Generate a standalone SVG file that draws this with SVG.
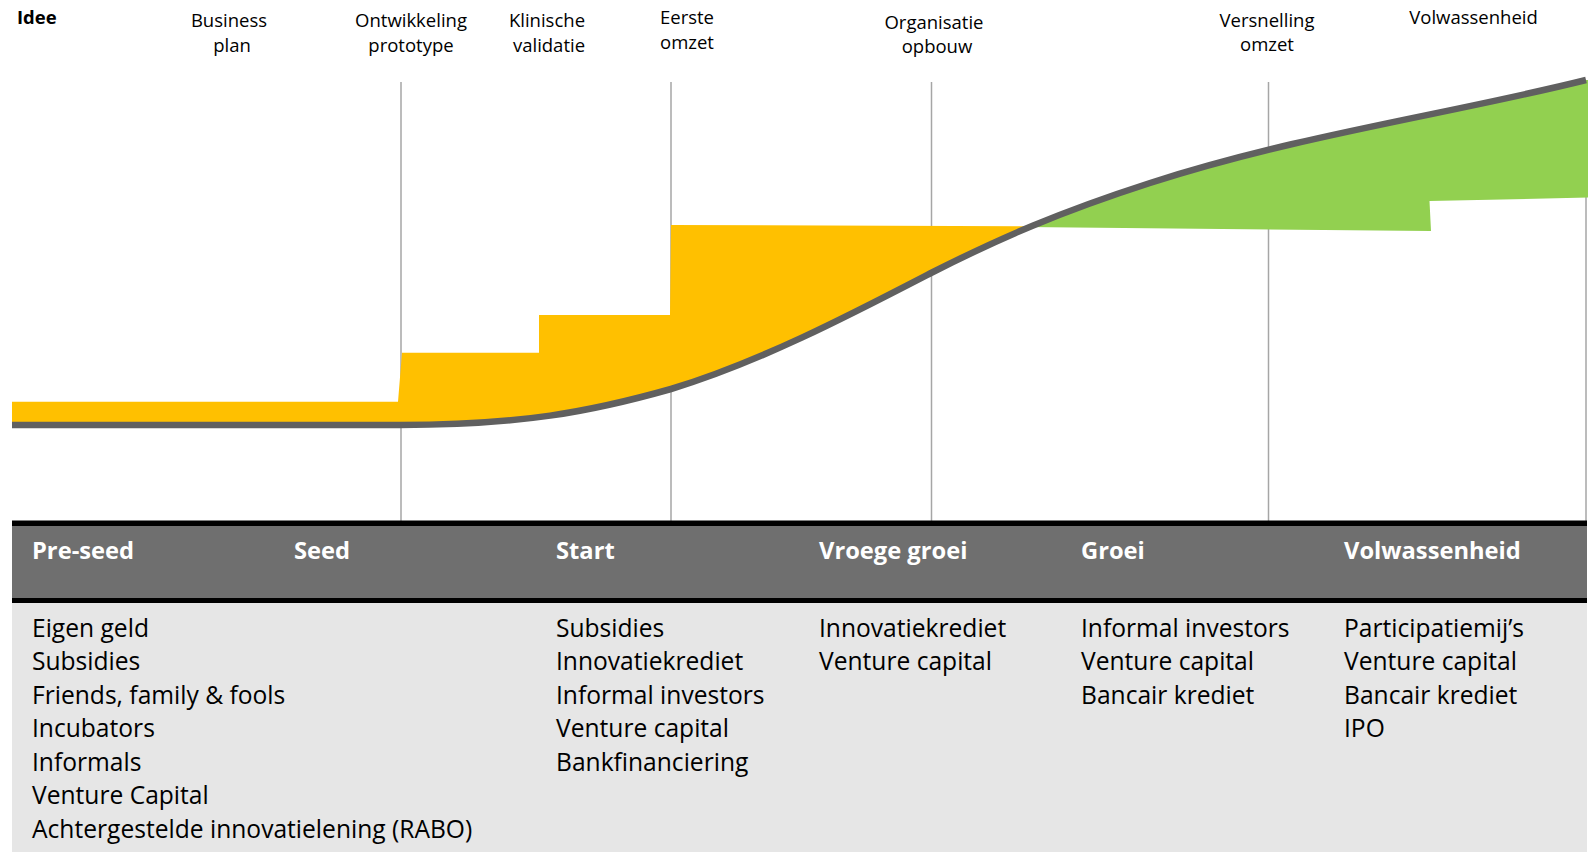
<svg xmlns="http://www.w3.org/2000/svg" width="1590" height="852" viewBox="0 0 1590 852">
<style>
.lbl{font-family:"Open Sans","Noto Sans","Liberation Sans",sans-serif;font-size:18.5px;fill:#000;text-anchor:middle}
.lblb{font-family:"Open Sans","Noto Sans","Liberation Sans",sans-serif;font-size:18.5px;font-weight:bold;fill:#000}
.hdr{font-family:"Open Sans","Noto Sans","Liberation Sans",sans-serif;font-size:23.7px;font-weight:bold;fill:#fff}
.itm{font-family:"Open Sans","Noto Sans","Liberation Sans",sans-serif;font-size:24.6px;fill:#000}
.vl{stroke:#a6a6a6;stroke-width:1.5;fill:none}
</style>
<defs>
<clipPath id="above">
<path d="M0,0 H1590 V80 L1586,80 C1450,114 1300,134.7 1150,183 C1060,212 1000,238 931,273 C850,315 760,362 671,389 C590,412 520,425 400,425 L0,425 Z"/>
</clipPath>
<clipPath id="below">
<path d="M0,425 L400,425 C520,425 590,412 671,389 C760,362 850,315 931,273 C1000,238 1060,212 1150,183 C1300,134.7 1450,114 1586,80 L1590,80 V852 H0 Z"/>
</clipPath>
</defs>
<rect x="0" y="0" width="1590" height="852" fill="#fff"/>

<g id="milestone-lines">
<line class="vl" x1="401" y1="82" x2="401" y2="521"/>
<line class="vl" x1="671" y1="82" x2="671" y2="521"/>
<line class="vl" x1="931.5" y1="82" x2="931.5" y2="521"/>
<line class="vl" x1="1268.5" y1="82" x2="1268.5" y2="521"/>
<line class="vl" x1="1586" y1="82" x2="1586" y2="521"/>
</g>

<g id="financing-areas">
<path d="M12,401.7 H398 L402,352.8 H539 V315 H670 L671,225 L1100,226.5 V520 H12 Z" fill="#ffc000" clip-path="url(#above)"/>
<path d="M1025,227 L1431,231 L1429.5,201 L1588,197.6 V60 H1025 Z" fill="#92d050" clip-path="url(#below)"/>
</g>

<g id="growth-curve">
<path d="M12,425 L400,425 C520,425 590,412 671,389 C760,362 850,315 931,273 C1000,238 1060,212 1150,183 C1300,134.7 1450,114 1586,80" fill="none" stroke="#606060" stroke-width="6.5"/>
</g>

<g id="milestones">
<g id="m-idee"><text class="lblb" x="17" y="24">Idee</text></g>
<g id="m-businessplan"><text class="lbl" x="229" y="27">Business</text><text class="lbl" x="232" y="51.5">plan</text></g>
<g id="m-prototype"><text class="lbl" x="411" y="27">Ontwikkeling</text><text class="lbl" x="411" y="51.5">prototype</text></g>
<g id="m-validatie"><text class="lbl" x="547" y="27">Klinische</text><text class="lbl" x="549" y="51.5">validatie</text></g>
<g id="m-eerste-omzet"><text class="lbl" x="687" y="23.5">Eerste</text><text class="lbl" x="687" y="48.5">omzet</text></g>
<g id="m-organisatie"><text class="lbl" x="934" y="28.5">Organisatie</text><text class="lbl" x="937" y="53">opbouw</text></g>
<g id="m-versnelling"><text class="lbl" x="1267" y="26.5">Versnelling</text><text class="lbl" x="1267" y="50.5">omzet</text></g>
<g id="m-volwassenheid"><text class="lbl" x="1473.5" y="23.5">Volwassenheid</text></g>
</g>

<g id="phase-table">
<rect x="12" y="603" width="1575" height="249" fill="#e6e6e6"/>
<rect x="12" y="520.5" width="1575" height="82.5" fill="#000"/>
<rect x="12" y="526" width="1575" height="72" fill="#6f6f6f"/>
</g>

<g id="phase-preseed">
<text class="hdr" x="32" y="559">Pre-seed</text>
<text class="itm" x="32" y="636.5">Eigen geld</text>
<text class="itm" x="32" y="670">Subsidies</text>
<text class="itm" x="32" y="703.6">Friends, family &amp; fools</text>
<text class="itm" x="32" y="737.2">Incubators</text>
<text class="itm" x="32" y="770.7">Informals</text>
<text class="itm" x="32" y="804.3">Venture Capital</text>
<text class="itm" x="32" y="837.8">Achtergestelde innovatielening (RABO)</text>
</g>
<g id="phase-seed">
<text class="hdr" x="294" y="559">Seed</text>
</g>
<g id="phase-start">
<text class="hdr" x="556" y="559">Start</text>
<text class="itm" x="556" y="636.5">Subsidies</text>
<text class="itm" x="556" y="670">Innovatiekrediet</text>
<text class="itm" x="556" y="703.6">Informal investors</text>
<text class="itm" x="556" y="737.2">Venture capital</text>
<text class="itm" x="556" y="770.7">Bankfinanciering</text>
</g>
<g id="phase-vroege-groei">
<text class="hdr" x="819" y="559">Vroege groei</text>
<text class="itm" x="819" y="636.5">Innovatiekrediet</text>
<text class="itm" x="819" y="670">Venture capital</text>
</g>
<g id="phase-groei">
<text class="hdr" x="1081" y="559">Groei</text>
<text class="itm" x="1081" y="636.5">Informal investors</text>
<text class="itm" x="1081" y="670">Venture capital</text>
<text class="itm" x="1081" y="703.6">Bancair krediet</text>
</g>
<g id="phase-volwassenheid">
<text class="hdr" x="1344" y="559">Volwassenheid</text>
<text class="itm" x="1344" y="636.5">Participatiemij’s</text>
<text class="itm" x="1344" y="670">Venture capital</text>
<text class="itm" x="1344" y="703.6">Bancair krediet</text>
<text class="itm" x="1344" y="737.2">IPO</text>
</g>
</svg>
